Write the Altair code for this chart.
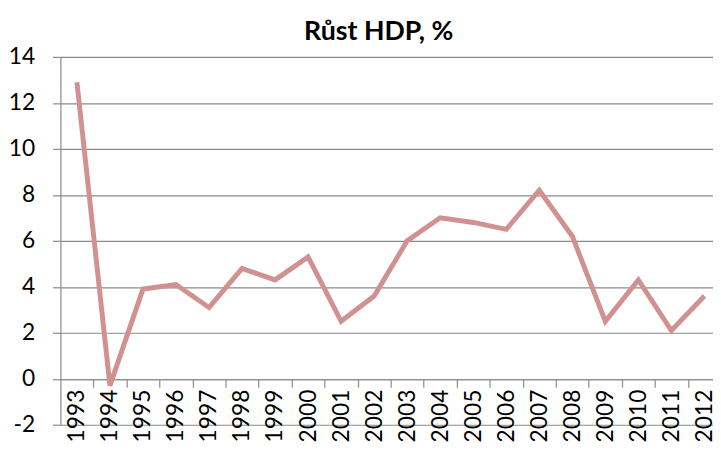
import altair as alt
import pandas as pd

years = list(range(1993, 2013))
growth = [12.9, -0.3, 3.9, 4.1, 3.1, 4.8, 4.3, 5.3, 2.5, 3.6,
          6.0, 7.0, 6.8, 6.5, 8.2, 6.2, 2.5, 4.3, 2.1, 3.6]
y_ticks = [-2, 0, 2, 4, 6, 8, 10, 12, 14]

df = pd.DataFrame({"year": years, "growth": growth})
boundaries = pd.DataFrame({"b": [y + 0.5 for y in years]})

FONT = "Lato"
GRID = "#8a8a8a"

x_scale = alt.Scale(domain=[1992.5, 2012.26], nice=False, zero=False)
y_scale = alt.Scale(domain=[-2, 14], nice=False, zero=False)

line = alt.Chart(df).mark_line(color="#d29191", strokeWidth=5, strokeJoin="miter", clip=True).encode(
    x=alt.X("year:Q", scale=x_scale,
            axis=alt.Axis(orient="bottom", values=years, format="d", labelAngle=-90,
                          labelAlign="right", labelBaseline="middle", labelPadding=10,
                          tickSize=0, domain=False, grid=False, title=None, offset=-46,
                          labelFont=FONT, labelFontSize=23, labelColor="black",
                          labelOverlap=False, labelFlush=False, labelBound=False)),
    y=alt.Y("growth:Q", scale=y_scale,
            axis=alt.Axis(values=y_ticks, title=None, grid=True, gridColor=GRID,
                          gridWidth=1.2, domainColor=GRID, domainWidth=1.2,
                          tickColor=GRID, tickSize=8, tickWidth=1.2, labelPadding=18,
                          labelExpr="'' + datum.value",
                          labelFont=FONT, labelFontSize=23, labelColor="black")),
)

ticks = alt.Chart(boundaries).mark_point(opacity=0).encode(
    x=alt.X("b:Q", scale=x_scale,
            axis=alt.Axis(orient="bottom", values=[y + 0.5 for y in years], labels=False,
                          tickSize=8, tickColor=GRID, tickWidth=1.2, domainColor=GRID,
                          domainWidth=1.2, grid=False, title=None, offset=-46)),
)

chart = alt.layer(line, ticks).resolve_axis(x="independent").properties(
    width=660,
    height=372,
    padding={"left": 53, "top": 47, "right": 0, "bottom": 15},
    autosize=alt.AutoSizeParams(type="none"),
    title=alt.TitleParams("Růst HDP, %", font=FONT, fontSize=27, fontWeight="bold",
                          color="black", anchor="middle", offset=0, dx=-8),
).configure_view(stroke=None)

chart.save("out.html", embed_options={"renderer": "svg", "actions": False})
